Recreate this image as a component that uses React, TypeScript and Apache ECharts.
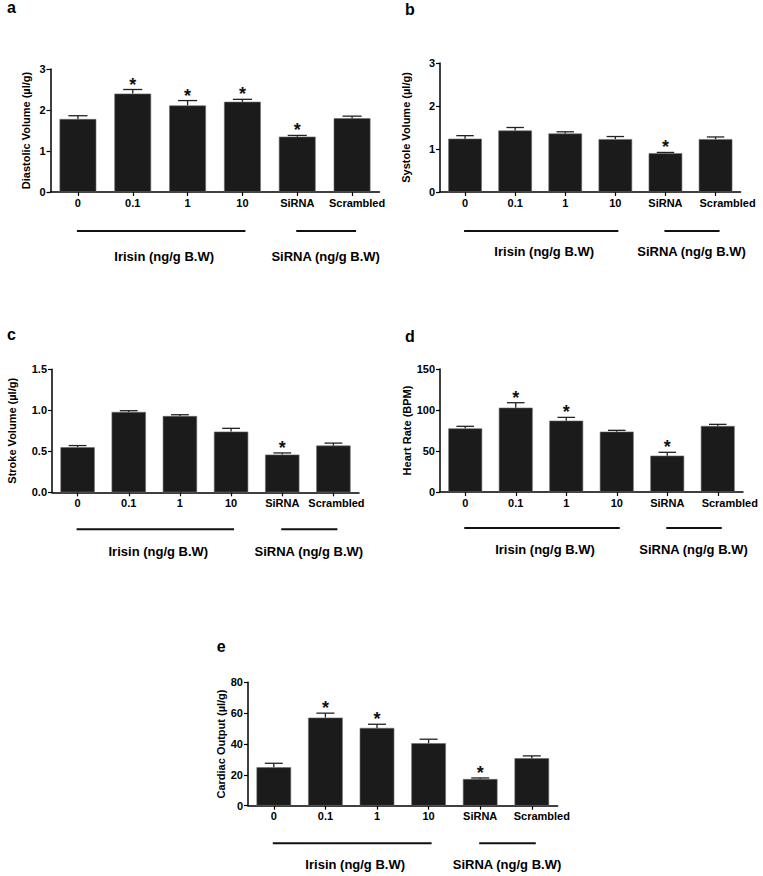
import React, { useEffect, useRef } from 'react';
import * as echarts from 'echarts';

const categories = ['0', '0.1', '1', '10', 'SiRNA', 'Scrambled'];

const diastolicMean = [1.78, 2.4, 2.11, 2.2, 1.35, 1.8];
const diastolicErr = [0.08, 0.1, 0.12, 0.06, 0.03, 0.05];
const diastolicSig = [0, 1, 1, 1, 1, 0];

const systoleMean = [1.24, 1.43, 1.36, 1.23, 0.9, 1.23];
const systoleErr = [0.07, 0.07, 0.04, 0.06, 0.02, 0.05];
const systoleSig = [0, 0, 0, 0, 1, 0];

const strokeMean = [0.55, 0.98, 0.93, 0.74, 0.46, 0.57];
const strokeErr = [0.02, 0.015, 0.016, 0.04, 0.02, 0.03];
const strokeSig = [0, 0, 0, 0, 1, 0];

const heartMean = [77.6, 102.8, 87, 73.6, 44.3, 80.5];
const heartErr = [2.5, 6.1, 4, 1.6, 4.1, 2];
const heartSig = [0, 1, 1, 0, 1, 0];

const cardiacMean = [24.9, 57.1, 50.4, 40.5, 17.3, 30.8];
const cardiacErr = [2.6, 2.9, 2.4, 2.6, 0.7, 1.5];
const cardiacSig = [0, 1, 1, 0, 1, 0];

const groupLabels = ['Irisin (ng/g B.W)', 'SiRNA (ng/g B.W)'];

const FONT = '"Liberation Sans", Arial, Helvetica, sans-serif';

const panels = [
  { letter: 'a', lx: 7, ly: 7.7, left: 50.5, top: 69, width: 329, height: 123, yName: 'Diastolic Volume (µl/g)', nameGap: 19, max: 3, interval: 1, dec: 0, mean: diastolicMean, err: diastolicErr, sig: diastolicSig, lineDy: 39, labelDy: 64, scr: 10 },
  { letter: 'b', lx: 405, ly: 9.4, left: 440, top: 63, width: 300.6, height: 129, yName: 'Systole Volume (µl/g)', nameGap: 29, max: 3, interval: 1, dec: 0, mean: systoleMean, err: systoleErr, sig: systoleSig, lineDy: 39, labelDy: 59, scr: 24 },
  { letter: 'c', lx: 7, ly: 334.4, left: 52, top: 369.3, width: 307, height: 123, yName: 'Stroke Volume (µl/g)', nameGap: 35, max: 1.5, interval: 0.5, dec: 1, mean: strokeMean, err: strokeErr, sig: strokeSig, lineDy: 37, labelDy: 59, scr: 6 },
  { letter: 'd', lx: 405, ly: 336, left: 440, top: 369, width: 303, height: 123, yName: 'Heart Rate (BPM)', nameGap: 27, max: 150, interval: 50, dec: 0, mean: heartMean, err: heartErr, sig: heartSig, lineDy: 36, labelDy: 57, scr: 24 },
  { letter: 'e', lx: 216.7, ly: 646, left: 248, top: 682.3, width: 309.6, height: 123.4, yName: 'Cardiac Output (µl/g)', nameGap: 22, max: 80, interval: 20, dec: 0, mean: cardiacMean, err: cardiacErr, sig: cardiacSig, lineDy: 37.6, labelDy: 59, scr: 20 },
];

function buildOption() {
  const grid: any[] = [];
  const xAxis: any[] = [];
  const yAxis: any[] = [];
  const series: any[] = [];
  const graphic: any[] = [];

  panels.forEach((p, i) => {
    grid.push({ left: p.left, top: p.top, width: p.width, height: p.height, containLabel: false });
    xAxis.push({
      type: 'category',
      gridIndex: i,
      data: categories,
      axisLine: { show: true, lineStyle: { color: '#000', width: 1.5 } },
      axisTick: { show: true, alignWithLabel: true, length: 4, lineStyle: { color: '#000', width: 1.2 } },
      axisLabel: {
        margin: 5,
        color: '#000',
        fontFamily: FONT,
        fontWeight: 'bold',
        fontSize: 11,
        interval: 0,
        formatter: (v: string) => (v === 'Scrambled' ? '{s|' + v + '}' : v),
        rich: { s: { padding: [0, 0, 0, p.scr], fontFamily: FONT, fontWeight: 'bold', fontSize: 11, color: '#000' } },
      },
      splitLine: { show: false },
    });
    yAxis.push({
      type: 'value',
      gridIndex: i,
      min: 0,
      max: p.max,
      interval: p.interval,
      name: p.yName,
      nameLocation: 'middle',
      nameGap: p.nameGap,
      nameTextStyle: { fontFamily: FONT, fontWeight: 'bold', fontSize: 11, color: '#000' },
      axisLine: { show: true, lineStyle: { color: '#000', width: 1.5 } },
      axisTick: { show: true, length: 4, lineStyle: { color: '#000', width: 1.2 } },
      axisLabel: { margin: 5, color: '#000', fontFamily: FONT, fontWeight: 'bold', fontSize: 11, formatter: (v: number) => v.toFixed(p.dec) },
      splitLine: { show: false },
    });
    series.push({
      type: 'bar',
      xAxisIndex: i,
      yAxisIndex: i,
      data: p.mean,
      barWidth: '67%',
      itemStyle: { color: '#1b1b1b', borderColor: '#6a6a6a', borderWidth: 0.6 },
      z: 2,
    });
    series.push({
      type: 'custom',
      xAxisIndex: i,
      yAxisIndex: i,
      data: p.mean.map((m, k) => [k, m, p.err[k], p.sig[k]]),
      encode: { x: 0, y: 1 },
      z: 3,
      renderItem: (params: any, api: any) => {
        const x = api.value(0);
        const m = api.value(1);
        const e = api.value(2);
        const s = api.value(3);
        const base = api.coord([x, m]);
        const top = api.coord([x, m + e]);
        const band = api.size([1, 0])[0];
        const hw = band * 0.67 * 0.26;
        const children: any[] = [
          { type: 'line', shape: { x1: base[0], y1: base[1], x2: top[0], y2: top[1] }, style: { stroke: '#222', lineWidth: 1.3 } },
          { type: 'line', shape: { x1: top[0] - hw, y1: top[1], x2: top[0] + hw, y2: top[1] }, style: { stroke: '#222', lineWidth: 1.3 } },
        ];
        if (s) {
          children.push({
            type: 'text',
            x: top[0],
            y: top[1] - 5,
            style: { text: '*', fontSize: 18, fontWeight: 'bold', fontFamily: FONT, fill: '#111', align: 'center', verticalAlign: 'middle' },
          });
        }
        return { type: 'group', children };
      },
    });

    const step = p.width / categories.length;
    const c = (k: number) => p.left + step * (k + 0.5);
    const axisY = p.top + p.height;
    const ly = axisY + p.lineDy;
    graphic.push({ type: 'line', shape: { x1: c(0) - 1, y1: ly, x2: c(3) + 3, y2: ly }, style: { stroke: '#111', lineWidth: 2 } });
    graphic.push({ type: 'line', shape: { x1: c(4) - 1, y1: ly, x2: c(5) + 4, y2: ly }, style: { stroke: '#111', lineWidth: 2 } });
    graphic.push({
      type: 'text', x: (c(0) + c(3)) / 2 + 4, y: axisY + p.labelDy,
      style: { text: groupLabels[0], fontSize: 13, fontWeight: 'bold', fontFamily: FONT, fill: '#000', align: 'center', verticalAlign: 'middle' },
    });
    graphic.push({
      type: 'text', x: (c(4) + c(5)) / 2 + 1, y: axisY + p.labelDy,
      style: { text: groupLabels[1], fontSize: 13, fontWeight: 'bold', fontFamily: FONT, fill: '#000', align: 'center', verticalAlign: 'middle' },
    });
    graphic.push({
      type: 'text', x: p.lx, y: p.ly,
      style: { text: p.letter, fontSize: 16, fontWeight: 'bold', fontFamily: FONT, fill: '#000', align: 'left', verticalAlign: 'middle' },
    });
  });

  return { animation: false, backgroundColor: '#fff', grid, xAxis, yAxis, series, graphic };
}

export default function App() {
  const ref = useRef<HTMLDivElement>(null);
  useEffect(() => {
    if (!ref.current) return;
    const chart = echarts.init(ref.current, undefined, { renderer: 'svg' });
    chart.setOption(buildOption() as any);
    return () => chart.dispose();
  }, []);
  return <div ref={ref} style={{ position: 'absolute', left: 0, top: 0, width: 763, height: 876, background: '#fff' }} />;
}
